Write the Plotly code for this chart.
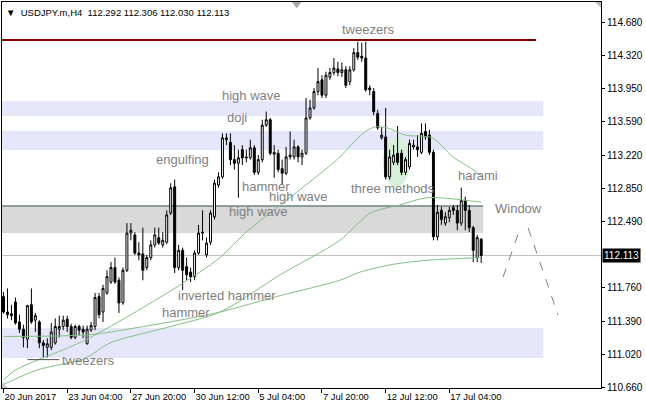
import plotly.graph_objects as go

# ---------------- data ----------------
bars = list(range(121))

opens = [
    111.66, 111.49, 111.47, 111.60, 111.38, 111.30, 111.19, 111.57, 111.40, 111.38,
    111.15, 111.10, 111.10, 111.15, 111.30, 111.33, 111.41, 111.33, 111.21, 111.33,
    111.30, 111.14, 111.29, 111.33, 111.66, 111.49, 111.70, 111.82, 111.98, 111.84,
    111.59, 111.95, 112.36, 112.34, 112.14, 112.13, 111.98, 112.09, 112.23, 112.31,
    112.23, 112.26, 112.58, 112.87, 111.98, 112.17, 111.99, 111.93, 111.88, 112.14,
    112.36, 112.12, 112.26, 112.54, 112.89, 112.98, 113.39, 113.36, 113.17, 113.13,
    113.28, 113.20, 113.19, 113.30, 113.03, 113.17, 113.55, 113.61, 113.23, 113.24,
    113.07, 113.02, 113.20, 113.20, 113.31, 113.20, 113.24, 113.63, 113.74, 113.92,
    114.05, 113.88, 114.08, 114.13, 114.17, 114.13, 114.16, 114.03, 114.16, 114.35,
    114.31, 114.29, 113.96, 113.92, 113.68, 113.41, 113.42, 112.98, 113.14, 113.24,
    113.24, 113.03, 113.09, 113.31, 113.31, 113.25, 113.48, 113.44, 113.25, 112.32,
    112.61, 112.47, 112.53, 112.64, 112.61, 112.47, 112.72, 112.61, 112.42, 112.09,
    112.292]

highs = [
    111.71, 111.75, 111.57, 111.65, 111.46, 111.35, 111.57, 111.75, 111.48, 111.40,
    111.18, 111.20, 111.37, 111.42, 111.45, 111.45, 111.45, 111.36, 111.35, 111.35,
    111.34, 111.34, 111.38, 111.70, 111.70, 111.79, 111.95, 112.04, 112.09, 111.87,
    111.98, 112.47, 112.47, 112.37, 112.26, 112.42, 112.12, 112.28, 112.42, 112.42,
    112.37, 112.61, 112.91, 112.95, 112.23, 112.20, 112.09, 111.98, 112.17, 112.45,
    112.61, 112.31, 112.61, 112.95, 113.03, 113.46, 113.46, 113.46, 113.33, 113.28,
    113.33, 113.28, 113.39, 113.33, 113.22, 113.61, 113.70, 113.63, 113.33, 113.28,
    113.17, 113.31, 113.48, 113.39, 113.33, 113.28, 113.85, 113.83, 113.96, 114.18,
    114.10, 114.14, 114.18, 114.29, 114.25, 114.24, 114.20, 114.20, 114.40, 114.47,
    114.46, 114.47, 113.99, 113.96, 113.72, 113.53, 113.74, 113.28, 113.33, 113.54,
    113.28, 113.20, 113.39, 113.39, 113.44, 113.57, 113.57, 113.50, 113.28, 112.67,
    112.65, 112.59, 112.65, 112.67, 112.67, 112.86, 112.76, 112.67, 112.44, 112.34,
    112.306]

lows = [
    111.47, 111.42, 111.40, 111.35, 111.26, 111.10, 111.09, 111.36, 111.27, 111.09,
    110.99, 110.99, 111.07, 111.13, 111.21, 111.29, 111.27, 111.19, 111.19, 111.23,
    111.20, 111.13, 111.27, 111.29, 111.42, 111.38, 111.68, 111.80, 111.80, 111.48,
    111.57, 111.93, 112.28, 112.12, 112.06, 111.84, 111.95, 112.06, 112.20, 112.23,
    112.20, 112.24, 112.56, 111.92, 111.95, 111.73, 111.84, 111.82, 111.84, 112.12,
    112.28, 112.09, 112.23, 112.51, 112.86, 112.96, 113.33, 113.11, 113.06, 112.75,
    113.11, 113.14, 113.17, 113.00, 113.00, 113.14, 113.53, 113.22, 112.97, 113.03,
    112.89, 113.00, 113.17, 113.17, 113.14, 113.11, 113.22, 113.61, 113.72, 113.88,
    113.85, 113.85, 114.05, 114.10, 114.09, 114.08, 113.96, 113.99, 114.14, 114.27,
    114.25, 113.92, 113.88, 113.66, 113.50, 113.39, 112.95, 112.95, 113.11, 113.11,
    113.00, 113.00, 113.06, 113.28, 113.20, 113.23, 113.39, 113.22, 112.28, 112.28,
    112.45, 112.44, 112.48, 112.56, 112.39, 112.44, 112.39, 112.37, 112.04, 112.04,
    112.030]

closes = [
    111.49, 111.46, 111.45, 111.37, 111.30, 111.21, 111.56, 111.38, 111.45, 111.15,
    111.12, 111.14, 111.27, 111.33, 111.33, 111.40, 111.33, 111.21, 111.33, 111.29,
    111.27, 111.30, 111.34, 111.65, 111.46, 111.75, 111.88, 111.98, 111.82, 111.59,
    111.95, 112.36, 112.39, 112.14, 112.12, 111.95, 112.09, 112.23, 112.34, 112.25,
    112.28, 112.56, 112.86, 111.98, 112.17, 111.95, 111.90, 111.88, 112.14, 112.36,
    112.37, 112.25, 112.58, 112.91, 112.98, 113.41, 113.41, 113.17, 113.13, 113.19,
    113.19, 113.19, 113.30, 113.03, 113.17, 113.55, 113.61, 113.24, 113.25, 113.06,
    113.02, 113.20, 113.22, 113.31, 113.20, 113.24, 113.63, 113.74, 113.92, 114.03,
    113.88, 114.10, 114.13, 114.18, 114.13, 114.16, 113.99, 114.16, 114.35, 114.30,
    114.29, 113.94, 113.94, 113.70, 113.52, 113.44, 112.98, 113.20, 113.22, 113.14,
    113.03, 113.17, 113.35, 113.33, 113.28, 113.46, 113.42, 113.25, 112.32, 112.59,
    112.51, 112.54, 112.61, 112.61, 112.47, 112.72, 112.61, 112.42, 112.17, 112.31,
    112.113]

# moving averages (bar index, price)
ma_fast_bars = [0, 3, 20.5, 42.6, 54.4, 60.7, 74.5, 80.8, 84.5, 90.3, 93.3, 96.4, 100.9, 107.7, 112.9, 118, 120]
ma_fast_vals = [110.74, 110.85, 111.18, 111.74, 112.09, 112.36, 112.84, 113.06, 113.20, 113.46, 113.53, 113.52, 113.44, 113.41, 113.20, 113.06, 112.99]

ma_mid_bars = [0, 8.4, 20.5, 26.8, 41.1, 54.4, 69.5, 84.5, 92.1, 99.6, 106.4, 120]
ma_mid_vals = [110.69, 110.85, 110.98, 111.15, 111.32, 111.49, 111.90, 112.28, 112.58, 112.67, 112.75, 112.70]

ma_slow_bars = [0, 21.7, 32.5, 44.3, 54.4, 69.5, 84.5, 89.6, 97.1, 106.4, 120]
ma_slow_vals = [111.22, 111.24, 111.31, 111.40, 111.49, 111.67, 111.84, 111.93, 112.01, 112.06, 112.09]

x_label_bars = [0, 16, 32, 48, 64, 80, 96, 112]
x_labels = ["20 Jun 2017", "23 Jun 04:00", "27 Jun 20:00", "30 Jun 12:00",
            "5 Jul 04:00", "7 Jul 20:00", "12 Jul 12:00", "17 Jul 04:00"]
y_ticks = [114.680, 114.320, 113.950, 113.590, 113.220, 112.850, 112.490,
           111.760, 111.390, 111.020, 110.660]

last_price = 112.113

# pattern labels (text) and their anchor (bar, price)
pattern_texts = ["tweezers", "high wave", "doji", "engulfing", "hammer", "high wave",
                 "high wave", "three methods", "harami", "Window", "inverted hammer",
                 "hammer", "tweezers"]
pattern_pos = [(84.5, 114.61), (54.4, 113.88), (55.6, 113.63), (37.8, 113.17),
               (59.4, 112.87), (66.2, 112.76), (56.2, 112.60), (86.8, 112.85),
               (113.7, 112.99), (123.0, 112.63), (43.3, 111.67), (39.3, 111.49),
               (14.2, 110.96)]

# ---------------- figure ----------------
FONT = "Liberation Sans, Arial, sans-serif"
MA_COLOR = "#82c182"

fig = go.Figure()

for bx, vals in [(ma_slow_bars, ma_slow_vals), (ma_mid_bars, ma_mid_vals), (ma_fast_bars, ma_fast_vals)]:
    fig.add_trace(go.Scatter(x=bx, y=vals, mode="lines", hoverinfo="skip",
                             line=dict(color=MA_COLOR, width=1, shape="spline", smoothing=0.8)))

fig.add_trace(go.Candlestick(
    x=bars, open=opens, high=highs, low=lows, close=closes,
    increasing=dict(line=dict(color="black", width=1), fillcolor="white"),
    decreasing=dict(line=dict(color="black", width=1), fillcolor="black"),
    whiskerwidth=0, hoverinfo="skip"))

shapes = []
LAV = "#e6e6fa"
for y0, y1 in [(113.651, 113.816), (113.276, 113.486), (110.983, 111.314)]:
    shapes.append(dict(type="rect", xref="x", yref="y", x0=-2, x1=135.6, y0=y0, y1=y1,
                       fillcolor=LAV, line=dict(width=0), layer="below"))
shapes.append(dict(type="rect", xref="x", yref="y", x0=-2, x1=120.5, y0=112.361, y1=112.659,
                   fillcolor="#d9d9d9", line=dict(width=0), layer="below"))
shapes.append(dict(type="line", xref="x", yref="y", x0=-2, x1=120.5, y0=112.659, y1=112.659,
                   line=dict(color="#2f4f4f", width=1), layer="below"))
shapes.append(dict(type="circle", xref="x", yref="y", x0=95.3, x1=102.1, y0=112.87, y1=113.42,
                   fillcolor="#d6efda", line=dict(width=0), layer="below"))
shapes.append(dict(type="line", xref="paper", yref="y", x0=0, x1=1, y0=last_price, y1=last_price,
                   line=dict(color="#c0c0c0", width=1), layer="below"))
shapes.append(dict(type="line", xref="x", yref="y", x0=-2, x1=133.8, y0=114.49, y1=114.49,
                   line=dict(color="#800000", width=2), layer="above"))
shapes.append(dict(type="line", xref="x", yref="y", x0=6, x1=14, y0=110.965, y1=110.965,
                   line=dict(color="#505050", width=1), layer="above"))
shapes.append(dict(type="line", xref="x", yref="y", x0=125.5, x1=129.8, y0=111.876, y1=112.416,
                   line=dict(color="#808080", width=1, dash="dash")))
shapes.append(dict(type="line", xref="x", yref="y", x0=131.8, x1=139.3, y0=112.416, y1=111.457,
                   line=dict(color="#808080", width=1, dash="dash")))
# small platform markers (shift marker at top, corner marks)
shapes.append(dict(type="path", xref="paper", yref="paper",
                   path="M 0.484,1 L 0.5,1 L 0.492,0.984 Z",
                   fillcolor="#a8a8a8", line=dict(width=0)))
shapes.append(dict(type="path", xref="paper", yref="paper",
                   path="M 0.99,1 L 1,1 L 1,0.985 Z",
                   fillcolor="#b8b8b8", line=dict(width=0)))
shapes.append(dict(type="path", xref="paper", yref="paper",
                   path="M 0,0 L 0,0.016 L 0.01,0 Z",
                   fillcolor="#c8c8c8", line=dict(width=0)))

annotations = []
for txt, (bx, py) in zip(pattern_texts, pattern_pos):
    annotations.append(dict(x=bx, y=py, xref="x", yref="y", text=txt, showarrow=False,
                            xanchor="left", yanchor="middle",
                            font=dict(family=FONT, size=13, color="#7f7f7f")))
annotations.append(dict(x=0, y=1, xref="paper", yref="paper", xanchor="left", yanchor="top",
                        xshift=2, yshift=-3, showarrow=False,
                        text="\u25bc\u00a0\u00a0USDJPY.m,H4\u00a0\u00a0112.292 112.306 112.030 112.113",
                        font=dict(family=FONT, size=9.5, color="black")))
annotations.append(dict(x=1, y=last_price, xref="paper", yref="y", xanchor="left", yanchor="middle",
                        xshift=1, showarrow=False, text="112.113", bgcolor="black", borderpad=1,
                        font=dict(family=FONT, size=10, color="white")))

fig.update_layout(
    width=646, height=409,
    margin=dict(l=2, r=45, t=2, b=21),
    paper_bgcolor="white", plot_bgcolor="white",
    showlegend=False,
    shapes=shapes, annotations=annotations,
    xaxis=dict(range=[-0.38, 150.1], showgrid=False, zeroline=False,
               rangeslider=dict(visible=False),
               tickmode="array", tickvals=x_label_bars, ticktext=x_labels,
               tickangle=0,
               ticks="outside", ticklen=4, tickcolor="black",
               ticklabelposition="outside right",
               tickfont=dict(family=FONT, size=9.4, color="black"),
               showline=True, linecolor="black", linewidth=1, mirror=True),
    yaxis=dict(range=[110.652, 114.908], side="right", showgrid=False, zeroline=False,
               tickmode="array", tickvals=y_ticks, ticktext=[f"{v:.3f}" for v in y_ticks],
               ticks="outside", ticklen=3, tickcolor="black",
               tickfont=dict(family=FONT, size=10, color="black"),
               showline=True, linecolor="black", linewidth=1, mirror=True),
)

fig.write_html("out.html", config={"displayModeBar": False},
               post_script="document.body.style.margin='0';")
